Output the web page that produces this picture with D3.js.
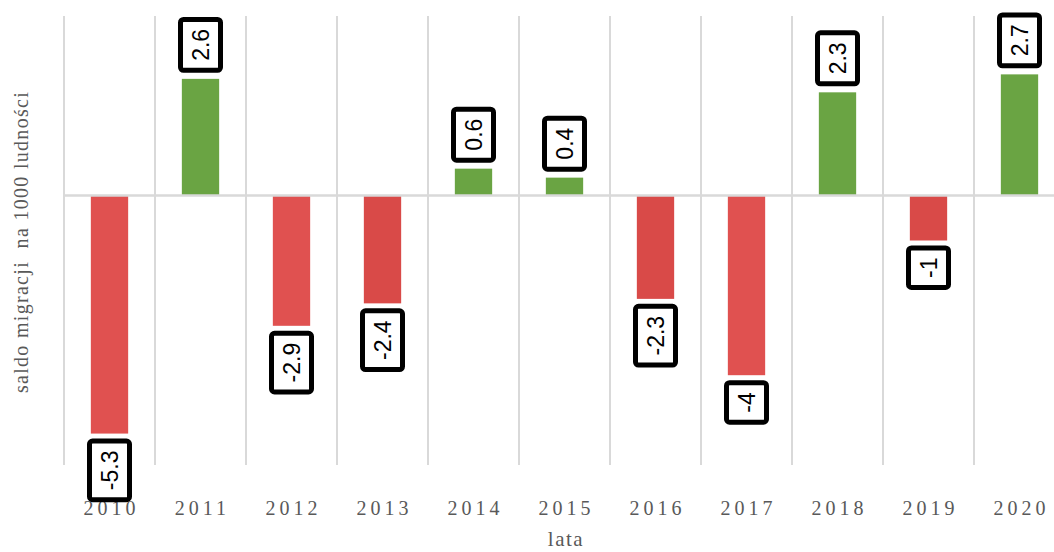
<!DOCTYPE html>
<html>
<head>
<meta charset="utf-8">
<script src="https://cdn.jsdelivr.net/npm/d3@7"></script>
<style>
  body { margin: 0; background: #fff; }
  svg { display: block; }
</style>
</head>
<body>
<div class="chart"></div>
<script>
var svgWidth = 1054;
var svgHeight = 552;

// data
var years = ["2010", "2011", "2012", "2013", "2014", "2015", "2016", "2017", "2018", "2019", "2020"];
var saldo = [-5.3, 2.6, -2.9, -2.4, 0.6, 0.4, -2.3, -4, 2.3, -1, 2.7];
var yDomain = [-6, 4];

var plot = { left: 64, right: 1065, top: 16, bottom: 465 };

var svg = d3.select(".chart")
  .append("svg")
  .attr("width", svgWidth)
  .attr("height", svgHeight);

var data = years.map(function(y, i) { return { year: y, value: saldo[i] }; });

var x = d3.scaleBand()
  .domain(years)
  .range([plot.left, plot.right])
  .paddingInner(0.59)
  .paddingOuter(0.295);

var y = d3.scaleLinear()
  .domain(yDomain)
  .range([plot.bottom, plot.top]);

var step = x.step();
var bw = x.bandwidth();

function barColor(v) {
  if (v >= 0) return "#6aa443";
  return v > -2.5 ? "#d94a48" : "#e05150";
}

// vertical gridlines at band edges
var edges = years.map(function(d) { return x(d) + bw / 2 - step / 2; });
svg.append("g")
  .selectAll("line")
  .data(edges)
  .enter()
  .append("line")
  .attr("x1", d => d)
  .attr("x2", d => d)
  .attr("y1", plot.top)
  .attr("y2", plot.bottom)
  .attr("stroke", "#d9d9d9")
  .attr("stroke-width", 2);

// bars
svg.append("g")
  .selectAll("rect")
  .data(data)
  .enter()
  .append("rect")
  .attr("x", d => x(d.year))
  .attr("width", bw)
  .attr("y", d => d.value >= 0 ? y(d.value) : y(0))
  .attr("height", d => Math.abs(y(d.value) - y(0)))
  .attr("fill", d => barColor(d.value));

// zero line
svg.append("line")
  .attr("x1", plot.left)
  .attr("x2", svgWidth)
  .attr("y1", y(0))
  .attr("y2", y(0))
  .attr("stroke", "#d9d9d9")
  .attr("stroke-width", 2.5);

// x tick labels
svg.append("g")
  .selectAll("text")
  .data(years)
  .enter()
  .append("text")
  .attr("x", d => x(d) + bw / 2 + 2)
  .attr("y", 515)
  .attr("text-anchor", "middle")
  .attr("font-family", "'Liberation Serif', 'Times New Roman', serif")
  .attr("font-size", 20)
  .attr("letter-spacing", 4)
  .attr("fill", "#595959")
  .text(d => d);

// value labels in boxes
var boxW = 40;
var labels = svg.append("g")
  .selectAll("g")
  .data(data)
  .enter()
  .append("g");

labels.each(function(d) {
  var g = d3.select(this);
  var cx = x(d.year) + bw / 2;
  var t = g.append("text")
    .attr("font-family", "'Liberation Sans', Arial, sans-serif")
    .attr("font-size", 23)
    .attr("fill", "#000")
    .attr("text-anchor", "middle")
    .attr("dominant-baseline", "central")
    .text(d.value);
  var len = t.node().getComputedTextLength();
  var boxH = len + 19;
  var cy;
  if (d.value >= 0) {
    cy = y(d.value) - 6 - 2.5 - boxH / 2;
  } else {
    cy = y(d.value) + 5 + 2.5 + boxH / 2;
  }
  g.insert("rect", "text")
    .attr("x", cx - boxW / 2)
    .attr("y", cy - boxH / 2)
    .attr("width", boxW)
    .attr("height", boxH)
    .attr("rx", 3)
    .attr("fill", "#fff")
    .attr("stroke", "#000")
    .attr("stroke-width", 5);
  t.attr("transform", `translate(${cx}, ${cy}) rotate(-90)`);
});

// axis titles
svg.append("text")
  .attr("x", 566)
  .attr("y", 546)
  .attr("text-anchor", "middle")
  .attr("font-family", "'Liberation Serif', 'Times New Roman', serif")
  .attr("font-size", 21)
  .attr("letter-spacing", 1.5)
  .attr("fill", "#595959")
  .text("lata");

svg.append("text")
  .attr("transform", "translate(28, 242) rotate(-90)")
  .attr("text-anchor", "middle")
  .attr("font-family", "'Liberation Serif', 'Times New Roman', serif")
  .attr("font-size", 20)
  .attr("letter-spacing", 1.3)
  .attr("fill", "#595959")
  .attr("xml:space", "preserve")
  .style("white-space", "pre")
  .text("saldo migracji  na 1000 ludności");
</script>
</body>
</html>
